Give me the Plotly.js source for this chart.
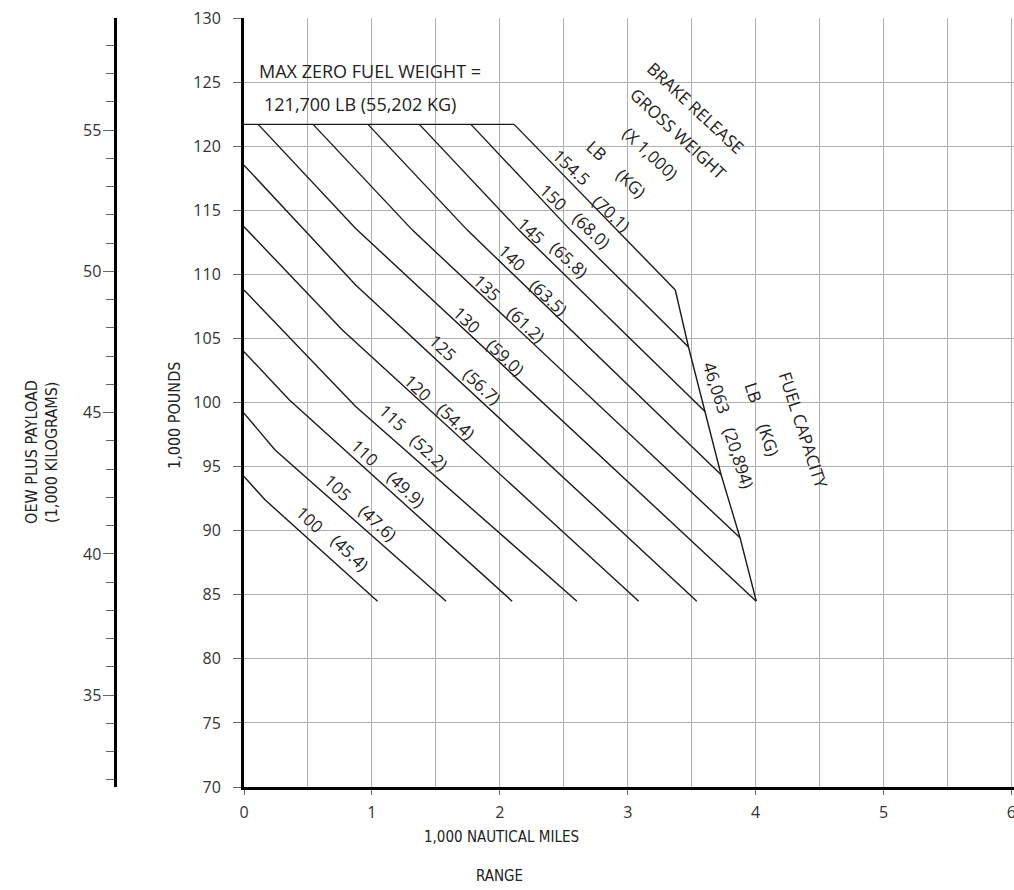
<!DOCTYPE html>
<html>
<head>
<meta charset="utf-8">
<script src="https://cdn.plot.ly/plotly-3.0.1.min.js"></script>
<style>html,body{margin:0;padding:0;background:#fff;}#chart{width:1014px;height:890px;}</style>
</head>
<body>
<div id="chart"></div>
<script>
// ---- data (range in 1,000 NM, weight in 1,000 LB) ----
const GROSS_LB = ['100', '105', '110', '115', '120', '125', '130', '135', '140', '145', '150', '154.5'];
const GROSS_KG = ['(45.4)', '(47.6)', '(49.9)', '(52.2)', '(54.4)', '(56.7)', '(59.0)', '(61.2)', '(63.5)', '(65.8)', '(68.0)', '(70.1)'];
const LINE_X = [
  [0, 0.164, 1.044],
  [0, 0.241, 1.580],
  [0, 0.353, 2.096],
  [0, 0.873, 2.603],
  [0, 0.769, 3.086],
  [0, 0.873, 3.540],
  [0.111, 0.873, 4.005],
  [0.540, 1.319, 3.878],
  [0.969, 1.748, 3.730],
  [1.371, 2.151, 3.606],
  [1.774, 2.554, 3.475],
  [2.112, 3.372]
];
const LINE_Y = [
  [94.22, 92.41, 84.5],
  [99.17, 96.31, 84.5],
  [103.97, 100.21, 84.5],
  [108.78, 99.68, 84.5],
  [113.71, 105.66, 84.5],
  [118.52, 109.17, 84.5],
  [121.7, 113.58, 84.5],
  [121.7, 113.43, 89.45],
  [121.7, 113.43, 94.36],
  [121.7, 113.43, 99.27],
  [121.7, 113.43, 104.33],
  [121.7, 108.78]
];
const MZFW_LB = 121.7;            // max zero fuel weight, 1,000 lb
const FUEL_LINES = [6, 7, 8, 9, 10, 11]; // lines whose ends sit on the fuel-capacity limit
const LB_PER_KG = 2.20462;
const X_TICKS = [0, 1, 2, 3, 4, 5, 6];
const LB_TICKS = [70, 75, 80, 85, 90, 95, 100, 105, 110, 115, 120, 125, 130];
const KG_TICKS = [35, 40, 45, 50, 55];

// ---- label placement (text positions, not data) ----
const LABEL_POS = [ // [lbX, lbY, kgX, kgY]
  [0.514, 90.85, 0.826, 88.28],
  [0.732, 93.34, 1.044, 90.61],
  [0.943, 96.07, 1.270, 93.19],
  [1.161, 98.80, 1.449, 96.07],
  [1.356, 101.14, 1.660, 98.49],
  [1.551, 104.26, 1.862, 101.22],
  [1.738, 106.44, 2.049, 103.55],
  [1.901, 109.01, 2.205, 106.05],
  [2.096, 111.35, 2.384, 108.23],
  [2.244, 113.45, 2.540, 111.12],
  [2.423, 116.03, 2.720, 113.45],
  [2.564, 118.37, 2.875, 114.78]
];

const LINE_COLOR = '#1a1a1a';
const TXT = '#222';
const FONT = 'Open Sans, Noto Sans, sans-serif';
const NARROW = 'Liberation Sans Narrow, DejaVu Sans Condensed, sans-serif';

const traces = [];
GROSS_LB.forEach((lb, i) => {
  traces.push({x: LINE_X[i], y: LINE_Y[i], type: 'scatter', mode: 'lines',
    line: {color: LINE_COLOR, width: 1.4}, hoverinfo: 'skip', showlegend: false});
});
// max zero fuel weight limit
const last = LINE_X.length - 1;
traces.push({x: [0, LINE_X[last][0]], y: [MZFW_LB, MZFW_LB], type: 'scatter', mode: 'lines',
  line: {color: LINE_COLOR, width: 1.4}, hoverinfo: 'skip', showlegend: false});
// fuel capacity limit through line ends
const fx = FUEL_LINES.map(i => LINE_X[i][LINE_X[i].length - 1]);
const fy = FUEL_LINES.map(i => LINE_Y[i][LINE_Y[i].length - 1]);
traces.push({x: fx, y: fy, type: 'scatter', mode: 'lines',
  line: {color: LINE_COLOR, width: 1.4}, hoverinfo: 'skip', showlegend: false});
// dummy trace for the kg axis
traces.push({x: [0], y: [50], yaxis: 'y2', type: 'scatter', mode: 'markers',
  marker: {opacity: 0}, hoverinfo: 'skip', showlegend: false});

const ann = [];
const lineFont = {family: FONT, size: 17, color: TXT};
function A(o) { return Object.assign({showarrow: false, xanchor: 'center', yanchor: 'middle'}, o); }
GROSS_LB.forEach((lb, i) => {
  const p = LABEL_POS[i];
  ann.push(A({x: p[0], y: p[1], text: lb, textangle: 43, font: lineFont}));
  ann.push(A({x: p[2], y: p[3], text: GROSS_KG[i], textangle: 43, font: lineFont}));
});
const extra = [
  [2.758, 119.69, 'LB', 43],
  [3.031, 117.12, '(KG)', 43],
  [3.179, 119.46, '(X 1,000)', 43],
  [3.397, 121.02, 'GROSS WEIGHT', 43],
  [3.530, 123.05, 'BRAKE RELEASE', 43],
  [3.694, 101.14, '46,063', 72],
  [3.865, 95.68, '(20,894)', 72],
  [3.982, 100.75, 'LB', 72],
  [4.099, 97.09, '(KG)', 72],
  [4.371, 97.87, 'FUEL CAPACITY', 72]
];
extra.forEach(e => ann.push(A({x: e[0], y: e[1], text: e[2], textangle: e[3], font: lineFont})));
const mzfwFont = {family: FONT, size: 18, color: TXT};
ann.push(A({x: 0.105, y: 125.85, xanchor: 'left', text: 'MAX ZERO FUEL WEIGHT =', font: mzfwFont}));
ann.push(A({x: 0.140, y: 123.28, xanchor: 'left', text: '121,700 LB (55,202 KG)', font: mzfwFont}));

const titleFont = {family: NARROW, size: 16, color: TXT};
const titleFontX = {family: NARROW, size: 15, color: TXT};
ann.push(A({x: 2.01, xref: 'x', y: -0.0656, yref: 'paper', text: '1,000 NAUTICAL MILES', font: titleFontX}));
ann.push(A({x: 2.0, xref: 'x', y: -0.1162, yref: 'paper', text: 'RANGE', font: titleFontX}));
ann.push(A({x: 0.1017, xref: 'paper', y: 0.4838, yref: 'paper', text: '1,000 POUNDS', textangle: -90, font: titleFont}));
ann.push(A({x: -0.0514, xref: 'paper', y: 0.4357, yref: 'paper', text: 'OEW PLUS PAYLOAD', textangle: -90, font: titleFont}));
ann.push(A({x: -0.0300, xref: 'paper', y: 0.4357, yref: 'paper', text: '(1,000 KILOGRAMS)', textangle: -90, font: titleFont}));

const tickFont = {family: FONT, size: 16, color: '#333'};
const GRID = '#b0b0b0';
const layout = {
  width: 1014, height: 890,
  margin: {l: 80, r: 0, t: 17.5, b: 102.5},
  paper_bgcolor: '#fff', plot_bgcolor: '#fff',
  showlegend: false,
  xaxis: {
    domain: [164 / 934, 1], range: [0, 6.02], tickvals: X_TICKS, ticktext: X_TICKS.map(String),
    showgrid: true, gridcolor: GRID, gridwidth: 1,
    minor: {dtick: 0.5, showgrid: true, gridcolor: GRID, gridwidth: 1},
    ticks: 'outside', ticklen: 5, tickcolor: '#666', tickfont: tickFont, ticklabelstandoff: 4,
    ticklabeloverflow: 'allow',
    showline: true, linecolor: '#000', linewidth: 3, zeroline: false, fixedrange: true
  },
  yaxis: {
    range: [70, 130], tickvals: LB_TICKS, ticktext: LB_TICKS.map(String),
    showgrid: true, gridcolor: GRID, gridwidth: 1,
    ticks: 'outside', ticklen: 8, tickcolor: '#666', tickfont: tickFont, ticklabelstandoff: 9,
    showline: true, linecolor: '#000', linewidth: 3, zeroline: false, fixedrange: true
  },
  yaxis2: {
    overlaying: 'y', anchor: 'free', position: (114.5 - 80) / 934, side: 'left',
    range: [70 / LB_PER_KG, 130 / LB_PER_KG], tickvals: KG_TICKS, ticktext: KG_TICKS.map(String),
    showgrid: false, zeroline: false,
    ticks: 'outside', ticklen: 11, tickcolor: '#666', tickfont: tickFont, ticklabelstandoff: -2,
    minor: {dtick: 1, tick0: 0, ticks: 'outside', ticklen: 8, tickcolor: '#666', showgrid: false},
    showline: true, linecolor: '#000', linewidth: 3, fixedrange: true
  },
  annotations: ann
};
Plotly.newPlot('chart', traces, layout, {staticPlot: true, displayModeBar: false});
</script>
</body>
</html>
